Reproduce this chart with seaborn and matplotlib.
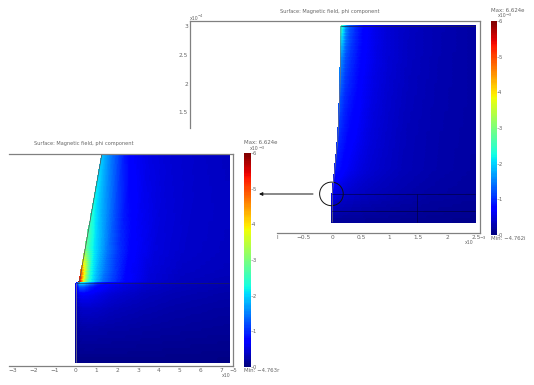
import numpy as np
import matplotlib
matplotlib.use("Agg")
import matplotlib.pyplot as plt
from matplotlib.patches import Circle, FancyArrowPatch
import seaborn as sns

TITLE = "Surface: Magnetic field, phi component"
CB_TICKS = [0, 1, 2, 3, 4, 5, 6]

# ---- left panel, field above the interface (x10^-5 units)
L_up_y = [6.25, 3.53, 1.61, 0.65, 0.0]
L_up_edge = [1.27, 0.79, 0.453, 0.284, 0.17]
L_up_off = [0, .14, .29, .48, .77, 1.15, 1.63, 2.31, 3.37, 4.81]
L_up_vals = [
    [1.9, 1.8, 1.65, 1.45, 1.2, .85, .62, .52, .44, .38, .34],
    [2.4, 2.2, 2.0, 1.8, 1.55, 1.2, .85, .62, .48, .4, .36],
    [3.0, 2.7, 2.4, 2.1, 1.8, 1.4, 1.05, .7, .5, .4, .34],
    [4.6, 4.0, 3.1, 2.3, 1.85, 1.45, 1.1, .68, .48, .37, .32],
    [6.0, 4.5, 3.3, 2.4, 1.9, 1.4, 1.1, .7, .46, .34, .28],
]
# ---- left panel, field below the interface
L_lo_y = [0.0, -0.2, -0.6, -1.25, -2.2, -3.76]
L_lo_x = [0.03, .19, .38, .67, 1.06, 1.54, 2.3, 3.37, 4.8, 7.38]
L_lo_vals = [
    [.7, 2.2, 2.2, 1.7, 1.0, .75, .58, .42, .34, .28],
    [.55, 1.3, 1.3, 1.0, .75, .62, .5, .38, .31, .25],
    [.42, .6, .65, .62, .55, .47, .4, .32, .27, .22],
    [.3, .36, .4, .4, .38, .34, .3, .26, .22, .18],
    [.18, .2, .22, .23, .22, .21, .2, .18, .16, .13],
    [.06, .06, .06, .06, .06, .06, .06, .06, .05, .04],
]
L_right = 7.38
L_xticks = [-3, -2, -1, 0, 1, 2, 3, 4, 5, 6, 7]

# ---- right panel (x10^-3 units)
R_y = [3.0, 2.41, 1.71, 1.02, 0.5, 0.08, -0.41]
R_edge = [.155, .15, .132, .1, .048, .005, .005]
R_off = [0, .05, .1, .17, .28, .42, .59, .83, 1.2, 1.7]
R_vals = [
    [2.6, 2.2, 1.6, 1.25, .98, .72, .58, .46, .35, .27, .2],
    [1.6, 1.45, 1.2, 1.05, .88, .68, .56, .45, .34, .26, .2],
    [1.25, 1.15, 1.0, .9, .78, .63, .52, .42, .32, .25, .2],
    [1.05, .95, .88, .78, .68, .58, .48, .4, .3, .24, .19],
    [.9, .85, .8, .7, .6, .52, .45, .38, .3, .24, .18],
    [.6, .55, .5, .46, .42, .38, .34, .3, .25, .2, .16],
    [.14, .14, .14, .14, .14, .14, .13, .12, .11, .1, .08],
]
R_right = 2.49
R_xticks = [-0.5, 0, 0.5, 1, 1.5, 2, 2.5]
R_xlabels = ["\u22120.5", "0", "0.5", "1", "1.5", "2", "2.5"]
R_yticks = [3, 2.5, 2, 1.5]
R_ylabels = ["3", "2.5", "2", "1.5"]

sns.set_style("white")
plt.rcParams["font.family"] = "DejaVu Sans"
W, H = 534, 385
GR = "#808080"
TXT = "#666666"
fig = plt.figure(figsize=(W / 100, H / 100), dpi=100)


def axpx(x0, y0, x1, y1):
    return fig.add_axes([x0 / W, 1 - y1 / H, (x1 - x0) / W, (y1 - y0) / H])


def ftext(x, y, s, size=3.6, ha="left", va="center", color=TXT):
    fig.text(x / W, 1 - y / H, s, fontsize=size, ha=ha, va=va, color=color)


def refine(A, k=10):
    """Resample a table in value space so that the jet colours stay true."""
    A = np.asarray(A, float)
    r, c = A.shape
    ri, ci = np.linspace(0, r - 1, (r - 1) * k + 1), np.linspace(0, c - 1, (c - 1) * k + 1)
    A = np.array([np.interp(ci, np.arange(c), row) for row in A])
    return np.array([np.interp(ri, np.arange(r), col) for col in A.T]).T


def draw_field(ax, X, Y, V):
    v = refine(V)
    # each quad coloured flat, edges drawn in the face colour: no seams
    c = (v[:-1, :-1] + v[1:, :-1] + v[:-1, 1:] + v[1:, 1:]) / 4
    return ax.pcolormesh(refine(X), refine(Y), c, cmap="jet", vmin=0, vmax=6,
                         shading="flat", antialiased=False, edgecolors="face", linewidth=.1)


def mesh_from(edge, ys, off, right):
    off = np.asarray(off, float)
    X = np.array([np.r_[e + off, right] for e in edge])
    Y = np.repeat(np.asarray(ys, float)[:, None], X.shape[1], axis=1)
    return X, Y


def colourbar(x0, y0, x1, y1):
    cax = axpx(x0, y0, x1, y1)
    levels = np.linspace(6, 0, 180)[:, None]
    sns.heatmap(levels, ax=cax, cmap="jet", vmin=0, vmax=6, cbar=False,
                xticklabels=False, yticklabels=False, rasterized=True)
    n = len(levels)
    cax.set_yticks([(6 - t) / 6 * n for t in CB_TICKS])
    cax.set_yticklabels([str(t) for t in CB_TICKS], fontsize=3.8, color=TXT)
    cax.yaxis.tick_right()
    cax.tick_params(axis="y", length=1.2, width=.4, pad=-.3, color=GR, right=True)
    for s in cax.spines.values():
        s.set_visible(False)
    return cax


def style(ax):
    for s in ax.spines.values():
        s.set_color(GR)
        s.set_linewidth(.9)
        s.set_visible(True)
    ax.patch.set_alpha(0)
    ax.tick_params(length=0, labelsize=4.2, labelcolor=TXT, pad=1.5)
    ax.grid(False)


# ---------- left panel
ax = axpx(9, 153.5, 233, 366)
ax.set_xlim(-3.2, 7.57)
ax.set_ylim(-3.97, 6.25)
style(ax)
ax.spines["left"].set_visible(False)
X, Y = mesh_from(L_up_edge, L_up_y, L_up_off, L_right)
draw_field(ax, X, Y, L_up_vals)
X2, Y2 = np.meshgrid(L_lo_x, L_lo_y)
draw_field(ax, X2, Y2, L_lo_vals)
ax.plot(L_up_edge, L_up_y, color="#555555", lw=.55)
ax.plot([0, L_right], [0, 0], color="#222244", lw=.4)
ax.plot([0, 0], [0, L_lo_y[-1]], color="#888888", lw=.5)
ax.set_xticks(L_xticks)
ax.set_xticklabels([str(t).replace("-", "\u2212") for t in L_xticks])
ax.set_yticks([])
ftext(34, 144, TITLE)
ftext(222, 375.5, "x10", size=3.4)
ftext(229, 371, "\u22125", size=3.8)
colourbar(244, 153, 251, 367)
ftext(244, 143, "Max: 6.624e", size=3.9)
ftext(250, 148.8, "x10", size=3.4)
ftext(258.5, 148, "\u22123", size=3)
ftext(244, 371, "Min: \u22124.763r", size=3.9)

# ---------- right panel
ax = axpx(190, 21, 479.5, 233)
ax.set_xlim(-2.465, 2.56)
ax.set_ylim(-0.6, 3.087)
style(ax)
ax.spines["left"].set_bounds(1.22, 3.087)
ax.spines["bottom"].set_bounds(-0.955, 2.56)
X, Y = mesh_from(R_edge, R_y, R_off, R_right)
draw_field(ax, X, Y, R_vals)
ax.plot(R_edge, R_y, color="#777777", lw=.5)
ax.plot([R_edge[0], R_right], [3, 3], color="#222244", lw=.5)
ax.plot([.005, R_right], [R_y[5], R_y[5]], color="#000033", lw=.4)
ax.plot([.005, R_right], [-.217, -.217], color="#000033", lw=.4)
ax.plot([1.47, 1.47], [R_y[5], R_y[6]], color="#000033", lw=.4)
ax.set_xticks(R_xticks)
ax.set_xticklabels(R_xlabels)
ax.set_yticks(R_yticks)
ax.set_yticklabels(R_ylabels)
ax.add_patch(Circle((-.01, .08), .205, fill=False, ec="#111111", lw=.7, clip_on=False))
ftext(277, 237.5, "l", size=4.2, ha="center")
ftext(280, 11, TITLE)
ftext(190, 18, "x10", size=3.4)
ftext(197.5, 16, "\u22124", size=2.6)
ftext(465, 243, "x10", size=3.4)
ftext(480, 237.5, "\u22123", size=3.2)
colourbar(490.5, 21, 497, 235)
ftext(491, 10.5, "Max: 6.624e", size=3.9)
ftext(498, 15.8, "x10", size=3.4)
ftext(506, 15, "\u22123", size=3)
ftext(491, 239, "Min: \u22124.762i", size=3.9)

# ---------- arrow between panels
fig.add_artist(FancyArrowPatch(
    (313 / W, 1 - 194 / H), (259 / W, 1 - 194 / H), transform=fig.transFigure,
    arrowstyle="-|>", mutation_scale=5, color="#111111", lw=.7, shrinkA=0, shrinkB=0))

fig.savefig("out.png", dpi=100, facecolor="white")
